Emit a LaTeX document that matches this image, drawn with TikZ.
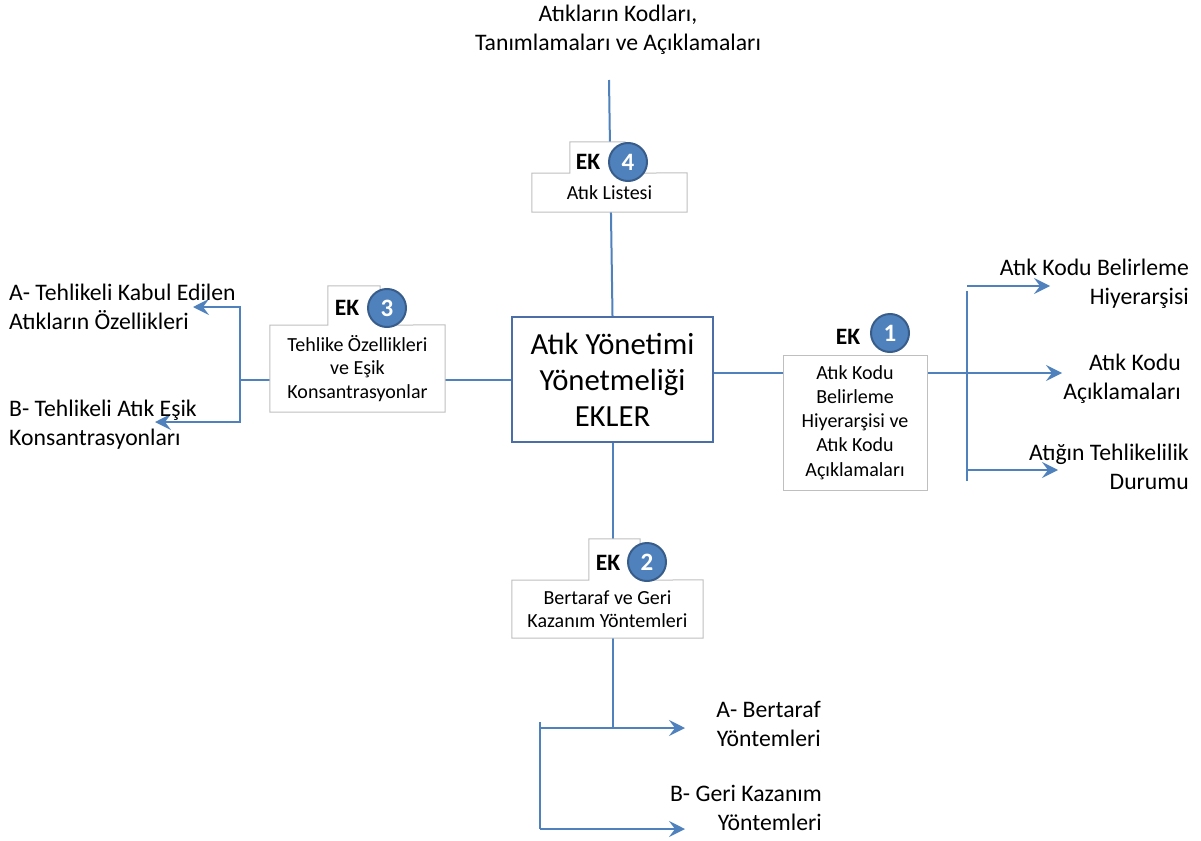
\documentclass[tikz,border=0pt]{standalone}
\usepackage{fontspec}
\setmainfont{Carlito}
\usetikzlibrary{arrows.meta,backgrounds}
\definecolor{linkblue}{RGB}{79,129,189}
\definecolor{framegray}{RGB}{191,191,191}
\definecolor{mainframe}{RGB}{74,110,165}
\definecolor{badgeedge}{RGB}{56,93,138}
\tikzset{
  link/.style={draw=linkblue, line width=2pt},
  tip/.tip={Stealth[length=16pt,width=16pt,inset=6pt]},
  linkarrow/.style={link, -tip},
  bracket/.style={link, tip-tip},
  mainbox/.style={draw=mainframe, line width=2.2pt, fill=white, minimum width=201pt,
    minimum height=125pt, align=center, inner sep=0pt, font=\fontsize{30.7}{36}\selectfont},
  annexbox/.style={fill=white, align=center, inner sep=0pt, font=\fontsize{20}{23.5}\selectfont},
  annexframe/.style={draw=framegray, line width=1pt},
  ektext/.style={inner sep=0pt, font=\bfseries\fontsize{23.5}{26}\selectfont},
  badge/.style={circle, fill=linkblue, draw=badgeedge, line width=2pt, minimum size=38pt,
    inner sep=0pt, text=white, font=\bfseries\fontsize{25}{26}\selectfont},
  sidetext/.style={inner sep=0pt, font=\fontsize{23.7}{29}\selectfont},
}
\begin{document}
\begin{tikzpicture}[x=1pt,y=-1pt]
\useasboundingbox (0,0) rectangle (1201,840);

% central box
\node[mainbox] (main) at (612.5,379.5) {Atık Yönetimi\\Yönetmeliği\\EKLER};

% EK 4
\node[annexbox, minimum width=155pt, minimum height=39pt] (b4) at (609.5,192.5) {Atık Listesi};
\node[annexbox, minimum width=55pt, minimum height=31pt] (t4) at (597.5,157.5) {};
\draw[annexframe] (t4.south west) |- (t4.north east) -- (t4.south east) -- (b4.north east)
  |- (b4.south west) |- cycle;
\node[ektext] (ek4) at (588,162) {EK};
\node[badge] (c4) at (628,162) {4};

% EK 3
\node[annexbox, minimum width=175pt, minimum height=87pt] (b3) at (357.5,368.5)
  {Tehlike Özellikleri\\ve Eşik\\Konsantrasyonlar};
\node[annexbox, minimum width=52pt, minimum height=39pt] (t3) at (354,305.5) {};
\draw[annexframe] (t3.south west) |- (t3.north east) -- (t3.south east) -- (b3.north east)
  |- (b3.south west) |- cycle;
\node[ektext] (ek3) at (347,308) {EK};
\node[badge] (c3) at (387,308) {3};

% EK 1
\node[annexbox, annexframe, minimum width=144pt, minimum height=135pt,
  font=\fontsize{20}{24.2}\selectfont] (b1) at (855,422.5)
  {Atık Kodu\\Belirleme\\Hiyerarşisi ve\\Atık Kodu\\Açıklamaları};
\node[ektext] (ek1) at (848,337) {EK};
\node[badge] (c1) at (890,333) {1};

% EK 2
\node[annexbox, minimum width=191pt, minimum height=58pt] (b2) at (607.5,609)
  {Bertaraf ve Geri\\Kazanım Yöntemleri};
\node[annexbox, minimum width=51pt, minimum height=41pt] (t2) at (614.5,559.5) {};
\draw[annexframe] (t2.south west) |- (t2.north east) -- (t2.south east) -- (b2.north east)
  |- (b2.south west) |- cycle;
\node[ektext] (ek2) at (608,563) {EK};
\node[badge] (c2) at (647,562) {2};

% outer texts
\node[sidetext, align=center] (top) at (618,30) {Atıkların Kodları,\\Tanımlamaları ve Açıklamaları};
\node[sidetext, align=left, anchor=west] (la) at (9,307) {A- Tehlikeli Kabul Edilen\\Atıkların Özellikleri};
\node[sidetext, align=left, anchor=west] (lb) at (9,425) {B- Tehlikeli Atık Eşik\\Konsantrasyonları};
\node[sidetext, align=right, anchor=east] (ra) at (1189,284) {Atık Kodu Belirleme\\Hiyerarşisi};
\node[sidetext, align=right, anchor=east] (rb) at (1181,379) {Atık Kodu\\Açıklamaları};
\node[sidetext, align=right, anchor=east] (rc) at (1189,467) {Atığın Tehlikelilik\\Durumu};
\node[sidetext, align=right, anchor=east] (ba) at (821,724) {A- Bertaraf\\Yöntemleri};
\node[sidetext, align=right, anchor=east] (bb) at (822,808) {B- Geri Kazanım\\Yöntemleri};

% junction points and arrow ends
\coordinate (topend) at (609,80);
\coordinate (lj) at (240,379.5);
\coordinate (lA) at (240,307);
\coordinate (lB) at (240,422);
\coordinate (tipLA) at (193,307);
\coordinate (tipLB) at (155,422);
\coordinate (rj) at (967,373);
\coordinate (rTop) at (967,291);
\coordinate (rBot) at (967,481);
\coordinate (rA) at (967,286);
\coordinate (rC) at (967,470);
\coordinate (tipRA) at (1050,286);
\coordinate (tipRB) at (1062,373);
\coordinate (tipRC) at (1058,470);
\coordinate (bj) at (612.5,728);
\coordinate (bL) at (540,728);
\coordinate (bTop) at (540,722);
\coordinate (bBot) at (540,829);
\coordinate (tipBA) at (685,728);
\coordinate (tipBB) at (685,829);

\begin{scope}[on background layer]
  \fill[white] (0,0) rectangle (1201,840);
  % EK 4 branch
  \draw[link] (topend) -- (main.north);
  % EK 3 branch
  \draw[link] (main.west) -- (b3.east |- main.west);
  \draw[link] (b3.west |- main.west) -- (lj);
  \draw[bracket] (tipLA) -- (lA) -- (lB) -- (tipLB);
  % EK 1 branch
  \draw[link] (main.east |- rj) -- (b1.west |- rj);
  \draw[linkarrow] (b1.east |- rj) -- (tipRB);
  \draw[link] (rTop) -- (rBot);
  \draw[linkarrow] (rA) -- (tipRA);
  \draw[linkarrow] (rC) -- (tipRC);
  % EK 2 branch
  \draw[link] (main.south) -- (main.south |- b2.north);
  \draw[link] (main.south |- b2.south) -- (bj);
  \draw[linkarrow] (bL) -- (tipBA);
  \draw[link] (bTop) -- (bBot);
  \draw[linkarrow] (bBot) -- (tipBB);
\end{scope}
\end{tikzpicture}
\end{document}
